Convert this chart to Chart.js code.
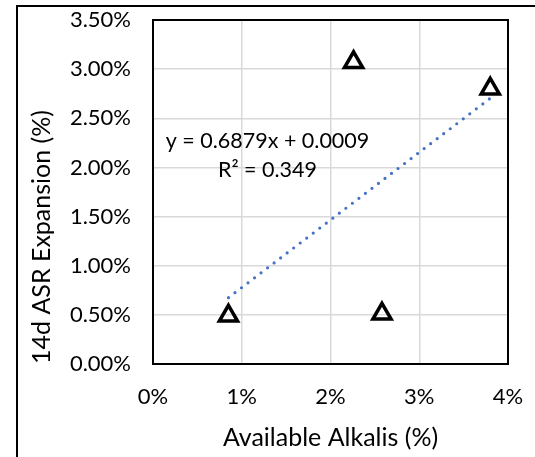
<!DOCTYPE html>
<html>
<head>
<meta charset="utf-8">
<script src="https://cdn.jsdelivr.net/npm/chart.js@4/dist/chart.umd.min.js"></script>
<style>
  body { margin: 0; background: #fff; }
  #wrap { position: relative; width: 535px; height: 457px; overflow: hidden; }
  #frame { position: absolute; left: 16px; top: 5px; width: 600px; height: 600px;
           border-left: 2px solid #000; border-top: 2px solid #000; }
  #chart { position: absolute; left: 0; top: 0; }
</style>
</head>
<body>
<div id="wrap">
  <div id="frame"></div>
  <canvas id="chart" width="535" height="457"></canvas>
</div>
<script>
// data (both axes in %)
var alkalis = [0.85, 2.26, 2.58, 3.80];
var expansion = [0.49, 3.07, 0.51, 2.80];

// linear trendline as printed on the chart (fractions)
var slope = 0.6879;
var intercept = 0.0009;
var rSquared = 0.349;

var xTicks = [0, 1, 2, 3, 4];
var yTicks = [0, 0.5, 1, 1.5, 2, 2.5, 3, 3.5];

var points = alkalis.map(function (x, i) { return { x: x, y: expansion[i] }; });
var xMin = Math.min.apply(null, alkalis);
var xMax = Math.max.apply(null, alkalis);
var trend = [xMin, xMax].map(function (x) {
    return { x: x, y: slope * x + intercept * 100 };
});

var font = 'Lato';

// black frame round the plot area
var plotBorder = {
    id: 'plotBorder',
    beforeDatasetsDraw: function (chart) {
        var a = chart.chartArea, ctx = chart.ctx;
        ctx.save();
        ctx.strokeStyle = '#000';
        ctx.lineWidth = 2;
        ctx.strokeRect(a.left, a.top, a.right - a.left, a.bottom - a.top);
        ctx.restore();
    }
};

// trendline equation label
var trendLabel = {
    id: 'trendLabel',
    afterDatasetsDraw: function (chart) {
        var ctx = chart.ctx, xs = chart.scales.x, ys = chart.scales.y;
        ctx.save();
        ctx.font = '21.5px ' + font;
        ctx.fillStyle = '#000';
        ctx.textAlign = 'center';
        ctx.textBaseline = 'middle';
        ctx.fillText('y = ' + slope + 'x + ' + intercept.toFixed(4), xs.getPixelForValue(1.29), ys.getPixelForValue(2.27));
        ctx.fillText('R\u00b2 = ' + rSquared, xs.getPixelForValue(1.29), ys.getPixelForValue(1.975));
        ctx.restore();
    }
};

var ctx = document.getElementById('chart').getContext('2d');
var myChart = new Chart(ctx, {
    type: 'scatter',
    data: {
        datasets: [{
            label: 'Expansion',
            data: points,
            pointStyle: 'triangle',
            pointRadius: 10.5,
            pointBorderWidth: 3.5,
            borderColor: '#000',
            backgroundColor: 'rgba(0,0,0,0)',
            order: 1
        }, {
            label: 'Trend',
            data: trend,
            showLine: true,
            pointRadius: 0,
            borderColor: '#4472C4',
            borderWidth: 3.2,
            borderDash: [0, 8.2],
            borderCapStyle: 'round',
            order: 2
        }]
    },
    options: {
        responsive: false,
        animation: false,
        layout: { padding: { left: 0, top: 20, right: 27, bottom: 0 } },
        plugins: { legend: { display: false }, tooltip: { enabled: false } },
        scales: {
            x: {
                type: 'linear',
                min: 0,
                max: 4,
                afterBuildTicks: function (s) { s.ticks = xTicks.map(function (v) { return { value: v }; }); },
                afterFit: function (s) { s.height = 93; s.paddingLeft = 0; s.paddingRight = 0; },
                grid: { color: '#d9d9d9', lineWidth: 1.5, drawTicks: false },
                border: { display: false },
                ticks: {
                    padding: 20,
                    color: '#000',
                    font: { family: font, size: 22 },
                    callback: function (v) { return v + '%'; }
                },
                title: {
                    display: true,
                    text: 'Available Alkalis (%)',
                    color: '#000',
                    font: { family: font, size: 25 },
                    padding: { bottom: 4, top: 0 }
                }
            },
            y: {
                type: 'linear',
                min: 0,
                max: 3.5,
                afterBuildTicks: function (s) { s.ticks = yTicks.map(function (v) { return { value: v }; }); },
                afterFit: function (s) { s.width = 153; s.paddingTop = 0; s.paddingBottom = 0; },
                grid: { color: '#d9d9d9', lineWidth: 1.5, drawTicks: false },
                border: { display: false },
                ticks: {
                    padding: 22,
                    color: '#000',
                    font: { family: font, size: 22 },
                    callback: function (v) { return v.toFixed(2) + '%'; }
                },
                title: {
                    display: true,
                    text: '14d ASR Expansion (%)',
                    align: 'start',
                    color: '#000',
                    font: { family: font, size: 25 },
                    padding: { top: 27, bottom: 0 }
                }
            }
        }
    },
    plugins: [plotBorder, trendLabel]
});
</script>
</body>
</html>
